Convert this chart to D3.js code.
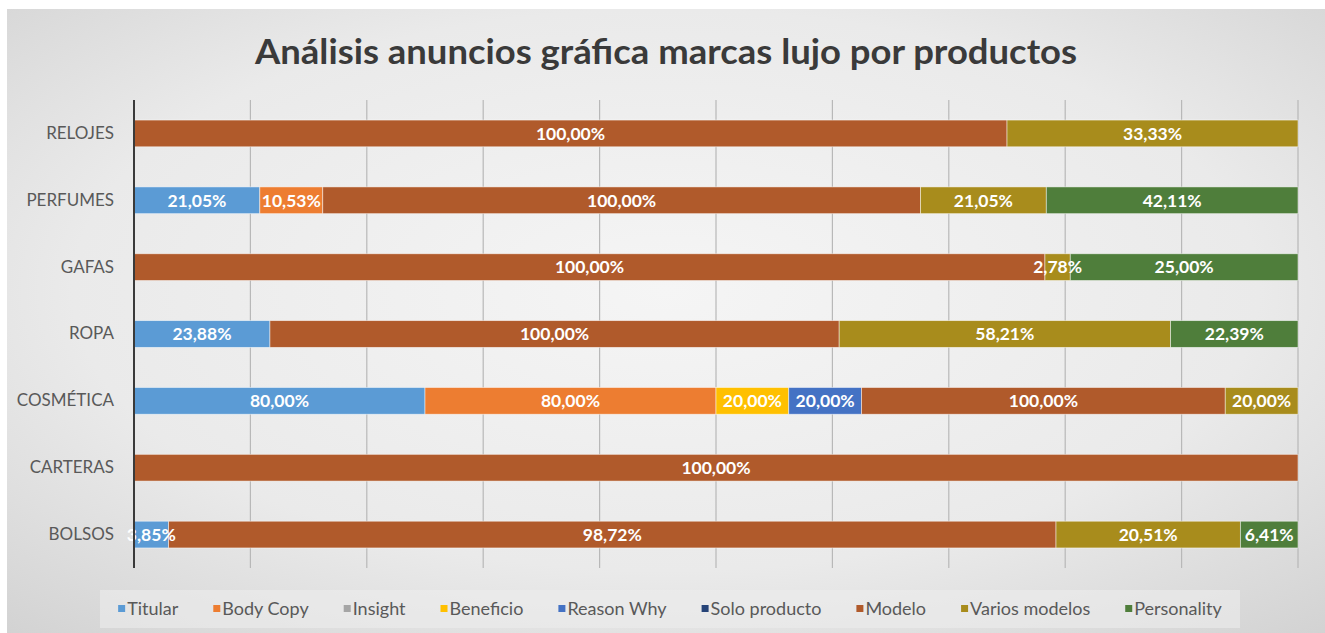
<!DOCTYPE html>
<html><head><meta charset="utf-8">
<script src="https://cdn.jsdelivr.net/npm/d3@7"></script>
<style>body{margin:0;background:#fff;}svg{display:block;}</style>
</head><body>
<svg id="c" width="1325" height="633"></svg>
<script>
const categories = ["RELOJES","PERFUMES","GAFAS","ROPA","COSMÉTICA","CARTERAS","BOLSOS"];
const seriesNames = ["Titular","Body Copy","Insight","Beneficio","Reason Why","Solo producto","Modelo","Varios modelos","Personality"];
const seriesColors = ["#5B9BD5","#ED7D31","#A5A5A5","#FFC000","#4472C4","#264478","#B05A2B","#A88C1C","#4F7E3B"];
const titular       = [0, 21.05, 0, 23.88, 80, 0, 3.85];
const bodyCopy      = [0, 10.53, 0, 0, 80, 0, 0];
const insight       = [0, 0, 0, 0, 0, 0, 0];
const beneficio     = [0, 0, 0, 0, 20, 0, 0];
const reasonWhy     = [0, 0, 0, 0, 20, 0, 0];
const soloProducto  = [0, 0, 0, 0, 0, 0, 0];
const modelo        = [100, 100, 100, 100, 100, 100, 98.72];
const variosModelos = [33.33, 21.05, 2.78, 58.21, 20, 0, 20.51];
const personality   = [0, 42.11, 25.00, 22.39, 0, 0, 6.41];
const xTicks = [0,0.1,0.2,0.3,0.4,0.5,0.6,0.7,0.8,0.9,1];
const titleText = "Análisis anuncios gráfica marcas lujo por productos";

const seriesValues = [titular, bodyCopy, insight, beneficio, reasonWhy, soloProducto, modelo, variosModelos, personality];
const rows = categories.map((c, i) => {
  const o = {cat: c};
  seriesNames.forEach((s, j) => o[s] = seriesValues[j][i]);
  return o;
});

const svg = d3.select("#c");
const defs = svg.append("defs");
const rg = defs.append("radialGradient").attr("id","bg").attr("cx","50%").attr("cy","45%").attr("r","75%");
rg.append("stop").attr("offset","0%").attr("stop-color","#f5f5f5");
rg.append("stop").attr("offset","60%").attr("stop-color","#eaeaea");
rg.append("stop").attr("offset","100%").attr("stop-color","#d2d2d2");
svg.append("rect").attr("x",7).attr("y",9).attr("width",1318).attr("height",624).attr("fill","url(#bg)");
svg.append("rect").attr("x",100).attr("y",590).attr("width",1140).attr("height",38).attr("fill","#ededed").attr("opacity",0.6);

const x = d3.scaleLinear().domain([0,1]).range([134,1298]);
const y = d3.scaleBand().domain(categories).range([100,568]).paddingInner(0.6).paddingOuter(0.3);

svg.append("g").selectAll("line").data(xTicks.slice(1)).join("line")
  .attr("x1", d => x(d)).attr("x2", d => x(d)).attr("y1",100).attr("y2",568)
  .attr("stroke","#b8b8b8").attr("stroke-width",1.2);

svg.append("text").attr("x",666).attr("y",64).attr("text-anchor","middle")
  .attr("font-family","Lato, 'Open Sans', sans-serif").attr("font-weight","bold")
  .attr("font-size",34).attr("fill","#3a3a3a")
  .attr("textLength",822).attr("lengthAdjust","spacingAndGlyphs").text(titleText);

const stack = d3.stack().keys(seriesNames).offset(d3.stackOffsetExpand);
const stacked = stack(rows);
const fmt = v => d3.format(".2f")(v).replace(".", ",") + "%";

const g = svg.append("g");
stacked.forEach((layer, j) => {
  layer.forEach((d, i) => {
    const v = seriesValues[j][i];
    if (!v) return;
    g.append("rect")
      .attr("x", x(d[0])).attr("width", x(d[1]) - x(d[0]))
      .attr("y", y(categories[i])).attr("height", y.bandwidth())
      .attr("fill", seriesColors[j]).attr("stroke","#ffffff").attr("stroke-opacity",0.6).attr("stroke-width",0.8);
  });
});
stacked.forEach((layer, j) => {
  layer.forEach((d, i) => {
    const v = seriesValues[j][i];
    if (!v) return;
    g.append("text")
      .attr("x", (x(d[0]) + x(d[1])) / 2).attr("y", y(categories[i]) + y.bandwidth()/2)
      .attr("dy","0.36em").attr("text-anchor","middle")
      .attr("font-family","Lato, 'Open Sans', sans-serif").attr("font-weight","bold").attr("font-size",17.5)
      .attr("fill","#ffffff").text(fmt(v));
  });
});

svg.append("line").attr("x1",x(0)).attr("x2",x(0)).attr("y1",100).attr("y2",568)
  .attr("stroke","#3a3a3a").attr("stroke-width",2);

const yAxis = d3.axisLeft(y).tickSize(0).tickPadding(20);
const ya = svg.append("g").attr("transform",`translate(${x(0)},0)`).call(yAxis);
ya.select(".domain").remove();
ya.selectAll("text").attr("font-family","Lato, 'Open Sans', sans-serif").attr("font-size",17).attr("fill","#595959");

const lg = svg.append("g");
const items = seriesNames.map((s, j) => {
  const it = lg.append("g");
  it.append("rect").attr("x",0).attr("y",-4).attr("width",7).attr("height",7).attr("fill",seriesColors[j]);
  const t = it.append("text").attr("x",9).attr("y",0).attr("dy","0.35em")
    .attr("font-family","Lato, 'Open Sans', sans-serif").attr("font-size",18).attr("fill","#595959").text(s);
  return {it, w: 9 + t.node().getComputedTextLength()};
});
const gap = 35;
const total = d3.sum(items, d => d.w) + gap * (items.length - 1);
let cx = 670 - total / 2;
items.forEach(d => { d.it.attr("transform", `translate(${cx},609)`); cx += d.w + gap; });
</script>
</body></html>
